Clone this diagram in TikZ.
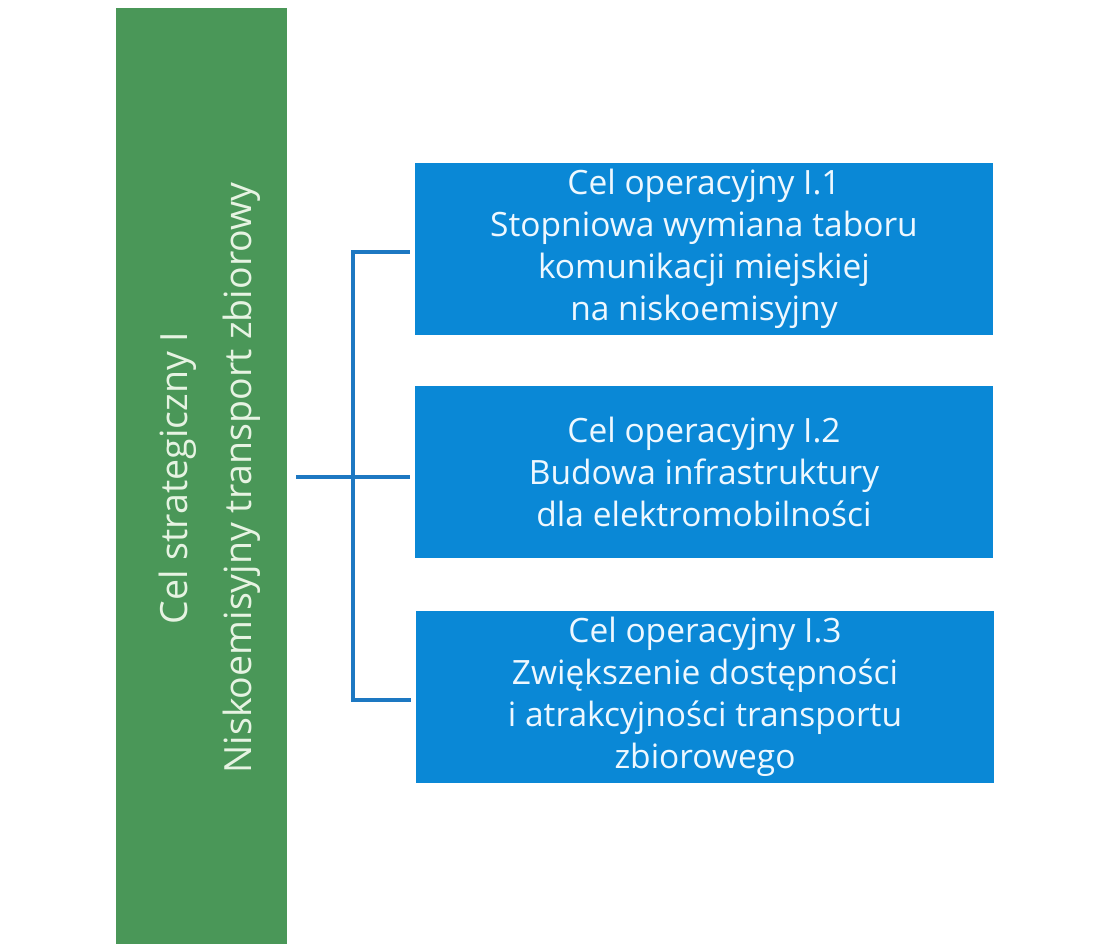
\documentclass[tikz,border=0pt]{standalone}
\usepackage{fontspec}
\setmainfont{Open Sans}
\definecolor{bargreen}{HTML}{4A9758}
\definecolor{boxblue}{HTML}{0A88D6}
\definecolor{lineblue}{HTML}{1D78C2}
\definecolor{boxtext}{HTML}{EEF8FF}
\definecolor{greentext}{HTML}{E6F3E2}
\tikzset{
  opbox/.style={fill=boxblue, draw=none, minimum width=578pt, minimum height=172pt,
    text=boxtext, align=center, font=\fontsize{33.5}{42}\selectfont, inner sep=0pt},
  conn/.style={draw=lineblue, line width=4pt}
}
\begin{document}
\begin{tikzpicture}[x=1pt,y=-1pt]
\useasboundingbox (0,0) rectangle (1094,944);
\fill[white] (0,0) rectangle (1094,944);
\node[fill=bargreen, minimum width=171pt, minimum height=940pt, inner sep=0pt] (g) at (201.5,478) {};
\node[rotate=90, text=greentext, align=center, font=\fontsize{37.5}{64}\selectfont] (gt) at (210,478)
  {Cel strategiczny I\\Niskoemisyjny transport zbiorowy};
\node[opbox] (b1) at (704,249) {Cel operacyjny I.1\\Stopniowa wymiana taboru\\komunikacji miejskiej\\na niskoemisyjny};
\node[opbox] (b2) at (704,472) {Cel operacyjny I.2\\Budowa infrastruktury\\dla elektromobilności};
\node[opbox] (b3) at (705,697) {Cel operacyjny I.3\\Zwiększenie dostępności\\i atrakcyjności transportu\\zbiorowego};
\coordinate (j) at (353,477);
\coordinate (t1) at (353,252);
\coordinate (t3) at (353,700);
\draw[conn, shorten <=9pt] (g.east |- j) -- (j);
\draw[conn, line cap=rect] (t1) -- (t3);
\draw[conn, shorten >=5pt] (t1) -- (t1 -| b1.west);
\draw[conn, shorten >=5pt] (j) -- (j -| b2.west);
\draw[conn, shorten >=5pt] (t3) -- (t3 -| b3.west);
\end{tikzpicture}
\end{document}
